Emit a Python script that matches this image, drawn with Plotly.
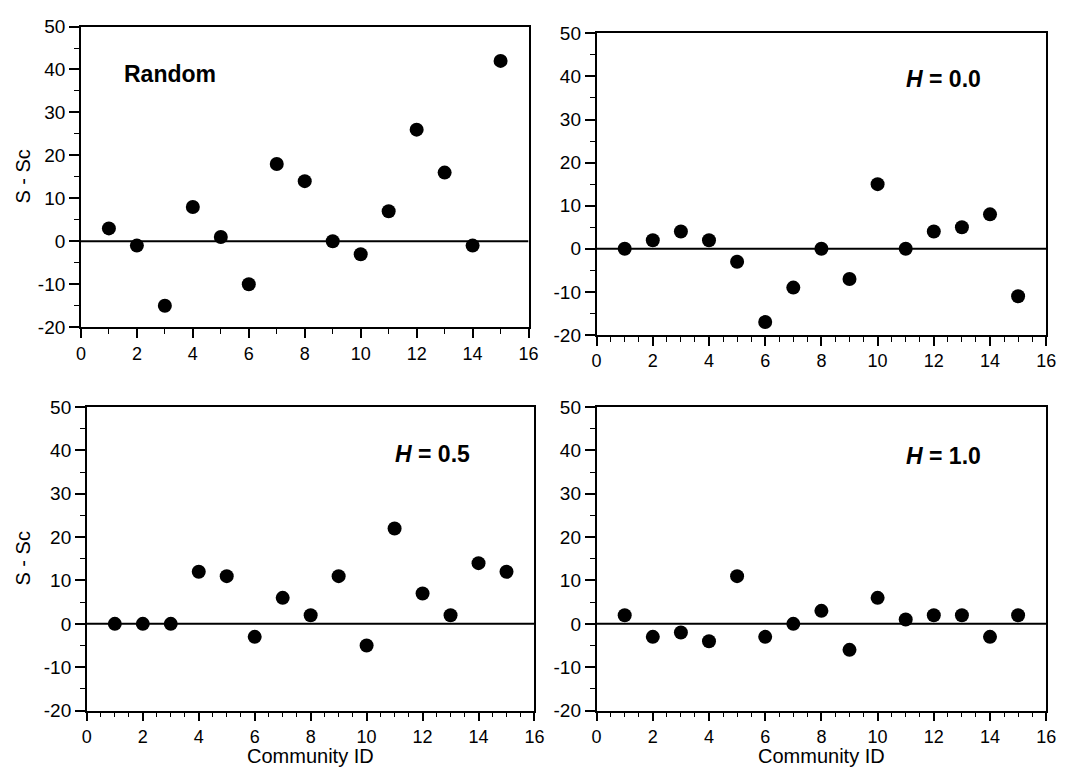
import plotly.graph_objects as go
from plotly.subplots import make_subplots

# ---------------- data ----------------
community_id = list(range(1, 16))
random_vals = [3, -1, -15, 8, 1, -10, 18, 14, 0, -3, 7, 26, 16, -1, 42]
h00_vals = [0, 2, 4, 2, -3, -17, -9, 0, -7, 15, 0, 4, 5, 8, -11]
h05_vals = [0, 0, 0, 12, 11, -3, 6, 2, 11, -5, 22, 7, 2, 14, 12]
h10_vals = [2, -3, -2, -4, 11, -3, 0, 3, -6, 6, 1, 2, 2, -3, 2]

panel_labels = ["<b>Random</b>", "<b><i>H</i> = 0.0</b>",
                "<b><i>H</i> = 0.5</b>", "<b><i>H</i> = 1.0</b>"]
label_x = [3.2, 12.35, 12.37, 12.35]
label_y = [39.0, 39.5, 39.1, 38.7]

x_tickvals = [0, 2, 4, 6, 8, 10, 12, 14, 16]
x_ticktext = ["0", "2", "4", "6", "8", "10", "12", "14", "16"]
y_tickvals = [-20, -10, 0, 10, 20, 30, 40, 50]
y_ticktext = ["-20", "-10", "0", "10", "20", "30", "40", "50"]
x_minor_step = [1, 0.5, 0.5, 0.5]

y_title = "S - Sc"
x_title = "Community ID"

series = [random_vals, h00_vals, h05_vals, h10_vals]

# ---------------- layout geometry (pixels) ----------------
W, H = 1071, 779
boxes = [(77, 531, 17, 326), (600, 1056, 24, 334),
         (83, 537, 408, 720), (600, 1056, 408, 720)]

FONT = "Liberation Sans, Arial, Helvetica, sans-serif"

fig = make_subplots(rows=2, cols=2)

for i, vals in enumerate(series):
    r, c = i // 2 + 1, i % 2 + 1
    fig.add_trace(go.Scatter(x=[0, 16], y=[0, 0], mode="lines",
                             line=dict(color="black", width=2),
                             hoverinfo="skip"), row=r, col=c)
    fig.add_trace(go.Scatter(x=community_id, y=vals, mode="markers",
                             marker=dict(color="black", size=14,
                                         line=dict(width=0))),
                  row=r, col=c)

for i in range(4):
    x0, x1, y0, y1 = boxes[i]
    xa = "xaxis" if i == 0 else f"xaxis{i+1}"
    ya = "yaxis" if i == 0 else f"yaxis{i+1}"
    common = dict(showline=True, linecolor="black", linewidth=1.6,
                  mirror=True, ticks="outside", tickwidth=1.5,
                  tickcolor="black", showgrid=False, zeroline=False,
                  tickmode="array")
    fig.layout[xa].update(domain=[x0 / W, x1 / W], range=[0, 16],
                          tickvals=x_tickvals, ticktext=x_ticktext,
                          ticklen=9,
                          tickfont=dict(family=FONT, size=18, color="black"),
                          minor=dict(ticks="outside", ticklen=5, tickwidth=1,
                                     tickcolor="black", tickmode="linear",
                                     tick0=0, dtick=x_minor_step[i],
                                     showgrid=False),
                          **common)
    fig.layout[ya].update(domain=[1 - y1 / H, 1 - y0 / H], range=[-20, 50],
                          tickvals=y_tickvals, ticktext=y_ticktext,
                          ticklen=10,
                          tickfont=dict(family=FONT, size=19, color="black"),
                          minor=dict(ticks="outside", ticklen=5, tickwidth=1,
                                     tickcolor="black", tickmode="linear",
                                     tick0=0, dtick=5, showgrid=False),
                          **common)
    xr = "x" if i == 0 else f"x{i+1}"
    yr = "y" if i == 0 else f"y{i+1}"
    fig.add_annotation(x=label_x[i], y=label_y[i], xref=xr, yref=yr,
                       text=panel_labels[i], showarrow=False,
                       xanchor="center", yanchor="middle",
                       font=dict(family=FONT, size=23, color="black"))

# axis titles
for (x0, x1, y0, y1) in [boxes[0], boxes[2]]:
    fig.add_annotation(x=18 / W, y=1 - ((y0 + y1) / 2) / H, xref="paper",
                       yref="paper", text=y_title, textangle=-90,
                       showarrow=False, xanchor="center", yanchor="middle",
                       font=dict(family=FONT, size=20, color="black"))
for (x0, x1, y0, y1) in [boxes[2], boxes[3]]:
    fig.add_annotation(x=((x0 + x1) / 2) / W, y=0, xref="paper",
                       yref="paper", text=x_title, showarrow=False,
                       xanchor="center", yanchor="bottom", borderpad=0,
                       font=dict(family=FONT, size=20, color="black"))

fig.update_layout(width=W, height=H, margin=dict(l=0, r=0, t=0, b=0),
                  plot_bgcolor="white", paper_bgcolor="white",
                  showlegend=False)

fig.write_html("out.html")
